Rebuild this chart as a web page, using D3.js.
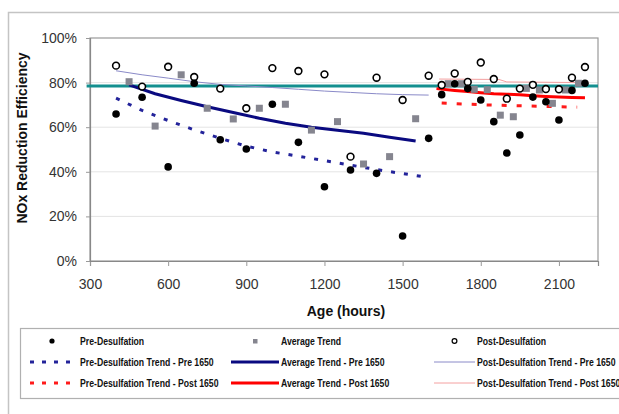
<!DOCTYPE html>
<html>
<head>
<meta charset="utf-8">
<script src="https://cdnjs.cloudflare.com/ajax/libs/d3/7.8.5/d3.min.js"></script>
<style>
  body { margin: 0; background: #fff; }
  svg { display: block; }
  .tick-label { font-family: "Liberation Sans", Arial, sans-serif; font-size: 14px; fill: #333; }
  .axis-title { font-family: "Liberation Sans", Arial, sans-serif; font-size: 14px; font-weight: bold; fill: #111; }
  .legend-text { font-family: "Liberation Sans", Arial, sans-serif; font-size: 11px; font-weight: bold; fill: #111; }
</style>
</head>
<body>
<svg class="board" width="619" height="414"></svg>
<script>
// measured points, age in hours
var measAge = [400, 500, 600, 700, 800, 900, 1000, 1100, 1200, 1300, 1400, 1500, 1600,
  1650, 1700, 1750, 1800, 1850, 1900, 1950, 2000, 2050, 2100, 2150, 2200];
var preDesulf = [65.9, 73.4, 42.2, 79.7, 54.4, 50.2, 70.3, 53.2, 33.3, 40.8, 39.3, 11.2, 55.0,
  74.6, 79.5, 77.3, 72.2, 62.5, 48.4, 56.5, 73.5, 71.4, 63.2, 76.5, 79.7];
var postDesulf = [87.6, 78.2, 87.1, 82.5, 77.3, 68.5, 86.5, 85.2, 83.7, 46.8, 82.2, 72.2, 83.1,
  78.9, 84.1, 80.3, 89.0, 81.6, 72.8, 77.3, 79.0, 77.1, 77.0, 82.2, 87.0];

// average trend squares
var avgAge = [450, 550, 650, 750, 850, 950, 1050, 1150, 1250, 1350, 1450, 1550,
  1675, 1725, 1775, 1825, 1875, 1925, 1975, 2025, 2075, 2125, 2175];
var avgVal = [80.4, 60.5, 83.5, 68.5, 63.7, 68.5, 70.3, 58.7, 62.5, 43.5, 46.8, 63.8,
  79.5, 79.5, 77.0, 76.8, 65.4, 64.7, 77.4, 76.7, 70.7, 76.7, 79.7];

// trend lines before 1650 hours
var preTrendPreAge = [400, 500, 600, 700, 800, 900, 1000, 1100, 1200, 1300, 1400, 1500, 1600];
var preTrendPreVal = [73, 67.5, 63, 58.8, 55, 51.5, 48.9, 47, 45, 43, 41, 39.2, 37.5];
var avgTrendPreAge = [450, 550, 650, 750, 850, 950, 1050, 1150, 1250, 1350, 1450, 1550];
var avgTrendPreVal = [79, 75, 72, 69.2, 66.6, 64, 61.8, 60, 58.6, 57.3, 55.5, 53.8];
var postTrendPreAge = [400, 500, 600, 700, 800, 900, 1000, 1100, 1200, 1300, 1400, 1500, 1600];
var postTrendPreVal = [85.3, 83.5, 82, 80.4, 79.2, 78.5, 77.8, 77, 76.2, 75.6, 75, 74.6, 74.4];

// trend lines after 1650 hours
var preTrendPostAge = [1650, 1750, 1850, 1950, 2050, 2170];
var preTrendPostVal = [70.8, 70.3, 69.9, 69.6, 69.3, 69.0];
var avgTrendPostAge = [1630, 1700, 1750, 1800, 1850, 1900, 1950, 2000, 2050, 2100, 2150, 2200];
var avgTrendPostVal = [77.3, 76.5, 76.0, 75.5, 75.0, 74.8, 74.5, 74.1, 73.8, 73.5, 73.3, 73.2];
var postTrendPostAge = [1640, 1750, 1870, 1900, 2000, 2100, 2200];
var postTrendPostVal = [81.6, 81.5, 81.4, 80.3, 80.2, 80.1, 80.0];

// horizontal reference level
var refAge = [287, 2250];
var refVal = [78.5, 78.5];

var xTicks = [300, 600, 900, 1200, 1500, 1800, 2100];
var yTicks = [0, 20, 40, 60, 80, 100];

var svg = d3.select(".board");

// outer chart frame (only top and left fall inside the picture)
svg.append("rect")
  .attr("x", 8.5).attr("y", 12.5)
  .attr("width", 640).attr("height", 440)
  .attr("fill", "none").attr("stroke", "#c4c4c4").attr("stroke-width", 1.5);

var x = d3.scaleLinear().domain([300, 2250]).range([90, 598]);
var y = d3.scaleLinear().domain([0, 100]).range([261, 38]);

// grid
svg.append("g").selectAll("line")
  .data(yTicks.slice(1, -1))
  .enter().append("line")
    .attr("x1", x(300)).attr("x2", x(2250))
    .attr("y1", function(d) { return y(d); })
    .attr("y2", function(d) { return y(d); })
    .attr("stroke", "#e4e4e4").attr("stroke-width", 1);

// plot frame
svg.append("rect")
  .attr("x", x(300)).attr("y", y(100))
  .attr("width", x(2250) - x(300)).attr("height", y(0) - y(100))
  .attr("fill", "none").attr("stroke", "#999").attr("stroke-width", 1.2);

// axes
var xAxis = svg.append("g")
  .attr("transform", "translate(0," + y(0) + ")")
  .call(d3.axisBottom(x).tickValues(xTicks).tickSize(5).tickPadding(13)
    .tickFormat(d3.format("d")));
var yAxis = svg.append("g")
  .attr("transform", "translate(" + x(300) + ",0)")
  .call(d3.axisLeft(y).tickValues(yTicks).tickSize(4).tickPadding(9)
    .tickFormat(function(d) { return d + "%"; }));
[xAxis, yAxis].forEach(function(ax) {
  ax.select(".domain").attr("stroke", "#888").attr("stroke-width", 1.2);
  ax.selectAll(".tick line").attr("stroke", "#999");
  ax.selectAll(".tick text").attr("class", "tick-label").attr("font-family", null).attr("font-size", null);
});

svg.append("text").attr("class", "axis-title")
  .attr("x", 346).attr("y", 316).attr("text-anchor", "middle")
  .text("Age (hours)");
svg.append("text").attr("class", "axis-title")
  .attr("transform", "translate(27,138) rotate(-90)")
  .attr("text-anchor", "middle")
  .text("NOx Reduction Efficiency");

// lines
var line = d3.line()
  .x(function(d) { return x(d[0]); })
  .y(function(d) { return y(d[1]); });

function drawLine(ages, vals, color, width, dash) {
  svg.append("path")
    .datum(d3.zip(ages, vals))
    .attr("d", line)
    .attr("fill", "none")
    .attr("stroke", color)
    .attr("stroke-width", width)
    .attr("stroke-dasharray", dash || null);
}

drawLine(refAge, refVal, "#138f8f", 3);
drawLine(postTrendPreAge, postTrendPreVal, "#8a8ac8", 1);
drawLine(postTrendPostAge, postTrendPostVal, "#f4a0a0", 1);
drawLine(preTrendPreAge, preTrendPreVal, "#23239a", 3, "4,9");
drawLine(avgTrendPreAge, avgTrendPreVal, "#0a0a80", 3);
drawLine(preTrendPostAge, preTrendPostVal, "#ff1a1a", 3, "5,10");
drawLine(avgTrendPostAge, avgTrendPostVal, "#ff0000", 3);

// markers
svg.append("g").selectAll("rect")
  .data(d3.zip(avgAge, avgVal))
  .enter().append("rect")
    .attr("x", function(d) { return x(d[0]) - 3.5; })
    .attr("y", function(d) { return y(d[1]) - 3.5; })
    .attr("width", 7).attr("height", 7)
    .attr("fill", "#85858f");

svg.append("g").selectAll("circle")
  .data(d3.zip(measAge, postDesulf))
  .enter().append("circle")
    .attr("cx", function(d) { return x(d[0]); })
    .attr("cy", function(d) { return y(d[1]); })
    .attr("r", 3.4)
    .attr("fill", "#fff").attr("stroke", "#000").attr("stroke-width", 1.6);

svg.append("g").selectAll("circle")
  .data(d3.zip(measAge, preDesulf))
  .enter().append("circle")
    .attr("cx", function(d) { return x(d[0]); })
    .attr("cy", function(d) { return y(d[1]); })
    .attr("r", 3.8)
    .attr("fill", "#000");

// legend
var legendItems = [
  {name: "Pre-Desulfation", kind: "dot", col: 0, row: 0},
  {name: "Average Trend", kind: "square", col: 1, row: 0},
  {name: "Post-Desulfation", kind: "ring", col: 2, row: 0},
  {name: "Pre-Desulfation Trend - Pre 1650", kind: "line", color: "#23239a", w: 3, dash: "4,8", col: 0, row: 1},
  {name: "Average Trend - Pre 1650", kind: "line", color: "#0a0a80", w: 3, col: 1, row: 1},
  {name: "Post-Desulfation Trend - Pre 1650", kind: "line", color: "#8a8ac8", w: 1, col: 2, row: 1},
  {name: "Pre-Desulfation Trend - Post 1650", kind: "line", color: "#ff1a1a", w: 3, dash: "4,8", col: 0, row: 2},
  {name: "Average Trend - Post 1650", kind: "line", color: "#ff0000", w: 3, col: 1, row: 2},
  {name: "Post-Desulfation Trend - Post 1650", kind: "line", color: "#f4a0a0", w: 1, col: 2, row: 2}
];
var colX = [30, 231, 434];
var colW = [48, 48, 41];
var rowY = [341, 362, 383];

svg.append("rect")
  .attr("x", 20.5).attr("y", 328.5)
  .attr("width", 640).attr("height", 70)
  .attr("fill", "none").attr("stroke", "#b0b0b0").attr("stroke-width", 1.2);

var leg = svg.append("g").selectAll("g")
  .data(legendItems)
  .enter().append("g")
    .attr("transform", function(d) { return "translate(" + colX[d.col] + "," + rowY[d.row] + ")"; });

leg.each(function(d) {
  var g = d3.select(this);
  var w = colW[d.col];
  if (d.kind === "line") {
    g.append("line").attr("x1", 0).attr("x2", w).attr("y1", 0).attr("y2", 0)
      .attr("stroke", d.color).attr("stroke-width", d.w)
      .attr("stroke-dasharray", d.dash || null);
  } else if (d.kind === "dot") {
    g.append("circle").attr("cx", w / 2 - 2).attr("cy", 0).attr("r", 2.6).attr("fill", "#000");
  } else if (d.kind === "square") {
    g.append("rect").attr("x", w / 2 - 2).attr("y", -2).attr("width", 4.5).attr("height", 4.5).attr("fill", "#85858f");
  } else {
    g.append("circle").attr("cx", w / 2).attr("cy", 0).attr("r", 2.4)
      .attr("fill", "#fff").attr("stroke", "#000").attr("stroke-width", 1.2);
  }
  // narrow bold text: squeeze horizontally
  g.append("text").attr("class", "legend-text")
    .attr("transform", "translate(" + (w + 2) + ",4) scale(0.79,1)")
    .text(d.name);
});
</script>
</body>
</html>
